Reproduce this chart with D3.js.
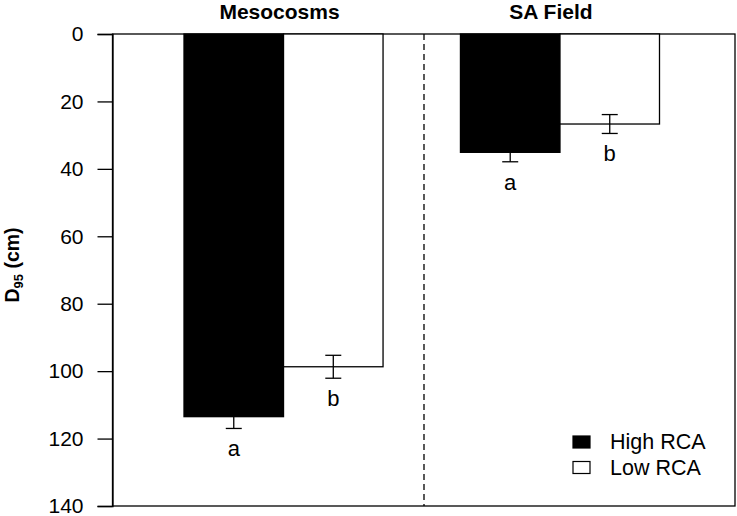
<!doctype html>
<html><head><meta charset="utf-8"/>
<title>D95 by RCA</title>
<style>
  body { margin:0; background:#fff; }
  svg { display:block; font-family: Arial, "Liberation Sans", sans-serif; }
</style>
</head><body>
<svg id="chart" width="737" height="516"></svg>
<script src="https://cdn.jsdelivr.net/npm/d3@7"></script>
<script>
// values (D95 in cm, plotted downward)
const groups = ["Mesocosms", "SA Field"];
const series = ["High RCA", "Low RCA"];
const highMean = [113.5, 35.1];
const highErr = [3.5, 2.8];
const lowMean = [98.7, 26.7];
const lowErr = [3.4, 2.8];
const highLetters = ["a", "a"];
const lowLetters = ["b", "b"];
const yTicks = [0, 20, 40, 60, 80, 100, 120, 140];
const fills = ["#000", "#fff"];

const rows = [];
groups.forEach((g, i) => {
  rows.push({ group: g, series: series[0], mean: highMean[i], err: highErr[i], letter: highLetters[i] });
  rows.push({ group: g, series: series[1], mean: lowMean[i], err: lowErr[i], letter: lowLetters[i] });
});

const svg = d3.select("#chart");
const frameL = 112.5, frameR = 735, frameT = 34, frameB = 506;

const y = d3.scaleLinear().domain([0, 140]).range([frameT, frameB]);
const x = d3.scaleBand().domain(groups).range([184, 659.5]).paddingInner(0.28).paddingOuter(0);
const xs = d3.scaleBand().domain(series).range([0, x.bandwidth()]);
const color = d3.scaleOrdinal().domain(series).range(fills);

// frame
svg.append("rect").attr("x", frameL).attr("y", frameT).attr("width", frameR - frameL).attr("height", frameB - frameT)
  .attr("fill", "none").attr("stroke", "#000").attr("stroke-width", 1.3);

// divider between the two settings
svg.append("line").attr("x1", 424).attr("x2", 424).attr("y1", frameT).attr("y2", frameB)
  .attr("stroke", "#000").attr("stroke-width", 1.3).attr("stroke-dasharray", "6,4");

// y axis
const yAxis = svg.append("g").attr("transform", `translate(${frameL},0)`)
  .call(d3.axisLeft(y).tickValues(yTicks).tickSize(15).tickPadding(14));
yAxis.select(".domain").attr("stroke-width", 1.3);
yAxis.selectAll(".tick line").attr("stroke-width", 1.3);
yAxis.selectAll(".tick text").attr("font-size", 21).attr("font-family", "Arial, 'Liberation Sans', sans-serif").attr("fill", "#000");

svg.append("text").attr("transform", "translate(19,265) rotate(-90)")
  .attr("text-anchor", "middle").attr("font-size", 19.5).attr("font-weight", "bold")
  .call(t => {
    t.append("tspan").text("D");
    t.append("tspan").attr("font-size", 13).attr("dy", 4).text("95");
    t.append("tspan").attr("dy", -4).text(" (cm)");
  });

// group titles
svg.selectAll(".gtitle").data(groups).enter().append("text")
  .attr("x", (d, i) => x(d) + x.bandwidth() / 2 - (i === 0 ? 4 : 9))
  .attr("y", 18.5).attr("text-anchor", "middle")
  .attr("font-size", 21).attr("font-weight", "bold").text(d => d);

// bars
const bx = d => x(d.group) + xs(d.series);
svg.selectAll(".bar").data(rows).enter().append("rect")
  .attr("x", bx).attr("y", y(0)).attr("width", xs.bandwidth())
  .attr("height", d => y(d.mean) - y(0))
  .attr("fill", d => color(d.series)).attr("stroke", "#000").attr("stroke-width", 1.3);

// error bars
const eb = svg.selectAll(".err").data(rows).enter().append("g")
  .attr("transform", d => `translate(${bx(d) + xs.bandwidth() / 2},0)`)
  .attr("stroke", "#000").attr("stroke-width", 1.3);
eb.append("line").attr("y1", d => y(d.mean - d.err)).attr("y2", d => y(d.mean + d.err));
eb.append("line").attr("x1", -8).attr("x2", 8).attr("y1", d => y(d.mean - d.err)).attr("y2", d => y(d.mean - d.err));
eb.append("line").attr("x1", -8).attr("x2", 8).attr("y1", d => y(d.mean + d.err)).attr("y2", d => y(d.mean + d.err));

// significance letters
svg.selectAll(".letter").data(rows).enter().append("text")
  .attr("x", d => bx(d) + xs.bandwidth() / 2)
  .attr("y", d => y(d.mean + d.err) + 28)
  .attr("text-anchor", "middle").attr("font-size", 22).text(d => d.letter);

// legend
const lg = svg.selectAll(".lg").data(series).enter().append("g")
  .attr("transform", (d, i) => `translate(573,${436 + i * 25.5})`);
lg.append("rect").attr("width", 17).attr("height", 12)
  .attr("fill", d => color(d)).attr("stroke", "#000").attr("stroke-width", 1.2);
lg.append("text").attr("x", 37).attr("y", 13).attr("font-size", 21.5).text(d => d);
</script>
</body></html>
